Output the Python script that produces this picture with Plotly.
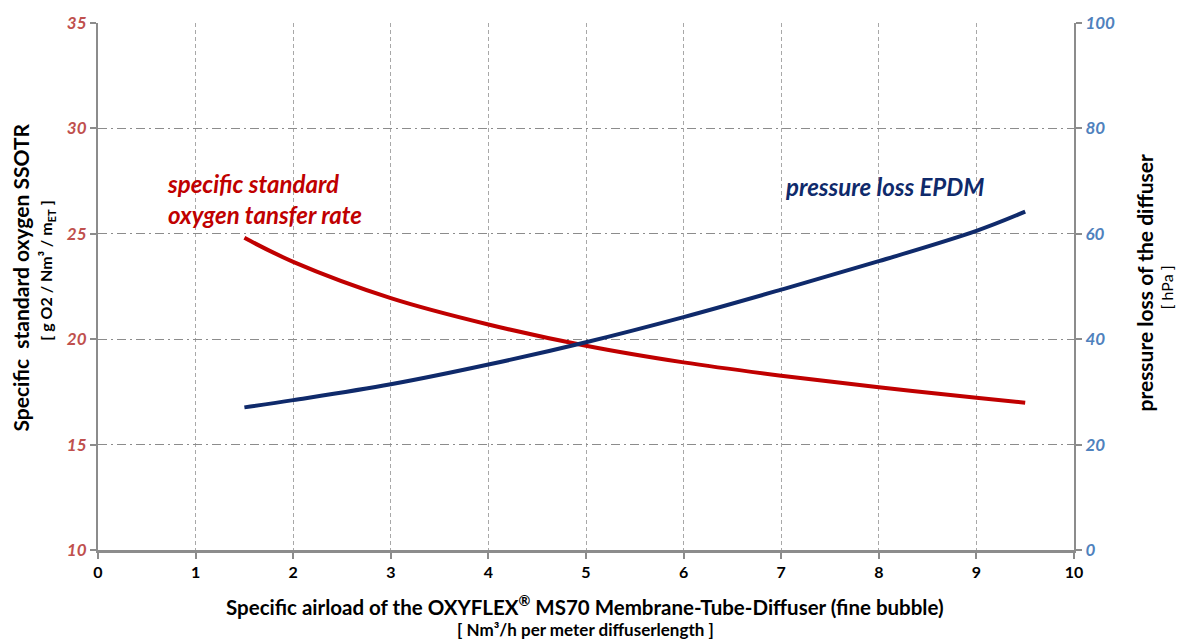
import plotly.graph_objects as go

# Data
airload = [1.5, 2, 3, 4, 5, 6, 7, 8, 9, 9.5]
ssotr = [24.81, 23.67, 21.95, 20.70, 19.69, 18.90, 18.27, 17.72, 17.22, 16.99]
pressure_loss = [27.06, 28.44, 31.44, 35.19, 39.43, 44.2, 49.4, 54.8, 60.56, 64.2]

x_ticks = list(range(0, 11))
y_left_ticks = [10, 15, 20, 25, 30, 35]
y_right_ticks = [0, 20, 40, 60, 80, 100]

FONT = "Lato"
RED = "#C00000"
NAVY = "#0F2A6B"
AXIS_GRAY = "#8c8c8c"

fig = go.Figure()
fig.add_trace(go.Scatter(
    x=airload, y=ssotr, mode="lines", line=dict(color=RED, width=4, shape="spline"),
    name="SSOTR", yaxis="y", showlegend=False, hoverinfo="x+y"))
fig.add_trace(go.Scatter(
    x=airload, y=pressure_loss, mode="lines", line=dict(color=NAVY, width=4, shape="spline"),
    name="pressure loss EPDM", yaxis="y2", showlegend=False, hoverinfo="x+y"))

fig.update_layout(
    width=1179, height=640,
    margin=dict(l=98, r=105, t=18, b=90),
    paper_bgcolor="white", plot_bgcolor="white",
    font=dict(family=FONT, color="black"),
    xaxis=dict(
        range=[0, 10], tickvals=x_ticks, showgrid=True, gridcolor="#a8a8a8",
        griddash="4px,3px", gridwidth=1, showline=True, linecolor=AXIS_GRAY, linewidth=2.5,
        ticks="outside", ticklen=6, tickcolor=AXIS_GRAY, tickwidth=1.5, zeroline=False,
        tickfont=dict(family=FONT, size=16, color="black", weight="bold"),
    ),
    yaxis=dict(
        range=[10, 35], tickvals=y_left_ticks, showgrid=True, gridcolor="#8c8c8c",
        griddash="9px,4px,2px,4px", gridwidth=1.3, showline=True, linecolor=AXIS_GRAY, linewidth=2,
        ticks="outside", ticklen=6, tickcolor=AXIS_GRAY, tickwidth=1.5, zeroline=False,
        tickfont=dict(family=FONT, size=17, color="#C0504D", style="italic", weight="bold"),
    ),
    yaxis2=dict(
        range=[0, 100], tickvals=y_right_ticks, overlaying="y", side="right",
        showgrid=False, showline=True, linecolor=AXIS_GRAY, linewidth=2,
        ticks="outside", ticklen=6, tickcolor=AXIS_GRAY, tickwidth=1.5, zeroline=False,
        tickfont=dict(family=FONT, size=17, color="#4F81BD", style="italic", weight="bold"),
    ),
)

annotations = [
    dict(text="specific standard<br>oxygen tansfer rate", x=0.69, y=26.65, xref="x", yref="y",
         xanchor="left", yanchor="middle", align="left", showarrow=False,
         font=dict(family=FONT, size=24, color=RED, style="italic", weight="bold")),
    dict(text="pressure loss EPDM", x=8.06, y=27.26, xref="x", yref="y",
         xanchor="center", yanchor="middle", showarrow=False,
         font=dict(family=FONT, size=24, color=NAVY, style="italic", weight="bold")),
    # left axis title
    dict(text="Specific  standard oxygen SSOTR", x=21, y=275, xref="paper", yref="paper",
         showarrow=False, textangle=-90,
         font=dict(family=FONT, size=21, color="black", weight="bold")),
    dict(text="[ g O2 / Nm³ / m<sub>ET</sub> ]", x=47, y=268, xref="paper", yref="paper",
         showarrow=False, textangle=-90,
         font=dict(family=FONT, size=16, color="black", weight="bold")),
    # right axis title
    dict(text="pressure loss of the diffuser", x=1145, y=280, xref="paper", yref="paper",
         showarrow=False, textangle=-90,
         font=dict(family=FONT, size=21, color="black", weight="bold")),
    dict(text="[ hPa ]", x=1166, y=285, xref="paper", yref="paper",
         showarrow=False, textangle=-90,
         font=dict(family=FONT, size=16, color="black")),
    # x axis title
    dict(text="Specific airload of the OXYFLEX<sup>®</sup> MS70 Membrane-Tube-Diffuser (fine bubble)",
         x=585, y=606, xref="paper", yref="paper", showarrow=False,
         font=dict(family=FONT, size=20.5, color="black", weight="bold")),
    dict(text="[ Nm³/h per meter diffuserlength ]", x=585, y=630, xref="paper", yref="paper",
         showarrow=False, font=dict(family=FONT, size=17, color="black", weight="bold")),
]

# convert pixel positions for paper-referenced annotations
pl, pr, pt, pb = 98, 1179 - 105, 18, 640 - 90
for a in annotations:
    if a["xref"] == "paper":
        a["x"] = (a["x"] - pl) / (pr - pl)
        a["y"] = (pb - a["y"]) / (pb - pt)
        a["xanchor"] = "center"
        a["yanchor"] = "middle"
fig.update_layout(annotations=annotations)

fig.write_html("out.html", config={"displayModeBar": False},
               post_script="document.body.style.margin='0px';")
